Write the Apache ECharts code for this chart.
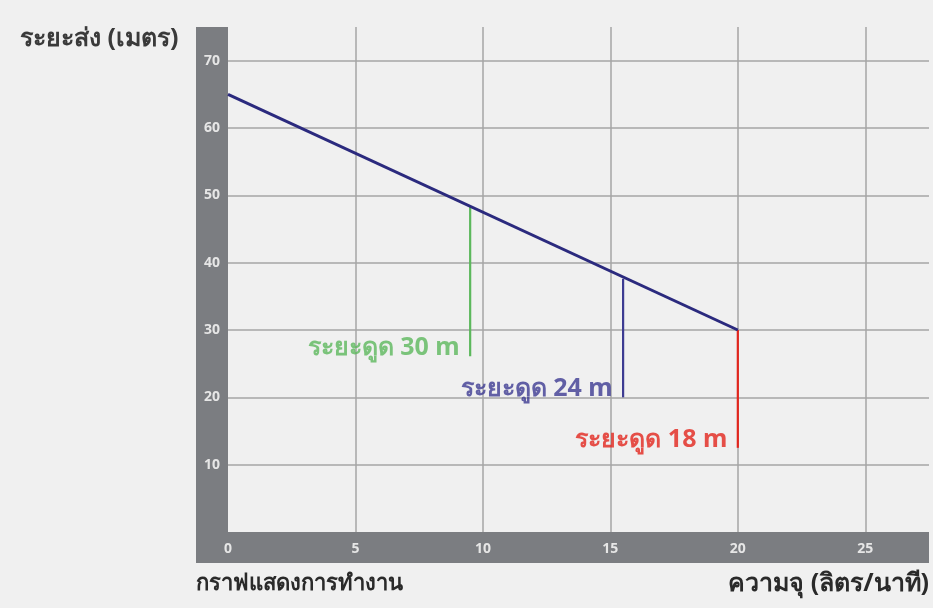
<!DOCTYPE html>
<html><head><meta charset="utf-8">
<script src="https://cdn.jsdelivr.net/npm/echarts@6/dist/echarts.min.js"></script>
<style>html,body{margin:0;padding:0;background:#f0f0f0}#c{width:933px;height:608px}</style>
</head><body><div id="c"></div>
<script>
const xTicks = [0, 5, 10, 15, 20, 25];
const yTicks = [10, 20, 30, 40, 50, 60, 70];
const headFlow = [0, 20];
const headValues = [65, 30];
const suctionFlow = [9.5, 15.5, 20];
const suctionTop = [48.3, 37.6, 30];
const suctionBottom = [26.1, 20, 12.5];
const suctionLabels = ['ระยะดูด 30 m', 'ระยะดูด 24 m', 'ระยะดูด 18 m'];
const suctionColors = ['#5cb85c', '#3d3b92', '#e2261d'];
const yTitle = 'ระยะส่ง (เมตร)';
const xTitle = 'ความจุ (ลิตร/นาที)';
const chartTitle = 'กราฟแสดงการทำงาน';

const font = '"Noto Sans", "DejaVu Sans", sans-serif';
const chart = echarts.init(document.getElementById('c'));
const series = [{
  type: 'line', data: headFlow.map((x, i) => [x, headValues[i]]),
  symbol: 'none', lineStyle: { color: '#2b2a7e', width: 3 }, z: 5
}];
suctionFlow.forEach((x, i) => {
  series.push({
    type: 'line', symbol: 'none',
    lineStyle: { color: suctionColors[i], width: 2.2 },
    data: [[x, suctionTop[i]], [x, suctionBottom[i]]],
    z: 4
  });
});
series.push({
  type: 'scatter', symbolSize: 1, itemStyle: { color: 'rgba(0,0,0,0)' }, z: 6,
  data: suctionFlow.map((x, i) => ({ value: [x, suctionBottom[i]], label: {
    show: true, position: 'left', distance: 10, offset: [0, -8],
    formatter: suctionLabels[i], color: suctionColors[i],
    fontSize: 25, fontWeight: 'bold', fontFamily: font
  } }))
});
chart.setOption({
  backgroundColor: '#f0f0f0',
  animation: false,
  grid: { left: 228, right: 4, top: 27, bottom: 76 },
  graphic: [
    { type: 'rect', z: -10, shape: { x: 196, y: 27, width: 32, height: 536 }, style: { fill: '#7b7d81' } },
    { type: 'rect', z: -10, shape: { x: 196, y: 532, width: 733, height: 31 }, style: { fill: '#7b7d81' } },
    { type: 'text', left: 20, top: 26, style: { text: yTitle, fill: '#3a3a3a', font: 'bold 25px ' + font } },
    { type: 'text', left: 196, top: 573, style: { text: chartTitle, fill: '#2a2a2a', font: 'bold 22px ' + font } },
    { type: 'text', right: 4, top: 571, style: { text: xTitle, fill: '#2a2a2a', font: 'bold 25px ' + font } }
  ],
  xAxis: {
    type: 'value', min: 0, max: 27.5, interval: 5,
    axisLine: { show: false }, axisTick: { show: false },
    axisLabel: { color: '#e6e6e6', fontSize: 14, fontWeight: 'bold', fontFamily: font, margin: 10,
      customValues: xTicks },
    splitLine: { show: true, showMaxLine: false, showMinLine: false, lineStyle: { color: '#a6a6a6', width: 1.5 } }
  },
  yAxis: {
    type: 'value', min: 0, max: 75, interval: 10,
    axisLine: { show: false }, axisTick: { show: false },
    axisLabel: { color: '#e6e6e6', fontSize: 14, fontWeight: 'bold', fontFamily: font, margin: 16, align: 'center',
      customValues: yTicks },
    splitLine: { show: true, showMaxLine: false, showMinLine: false, lineStyle: { color: '#a6a6a6', width: 1.5 } }
  },
  series: series
});
</script></body></html>
